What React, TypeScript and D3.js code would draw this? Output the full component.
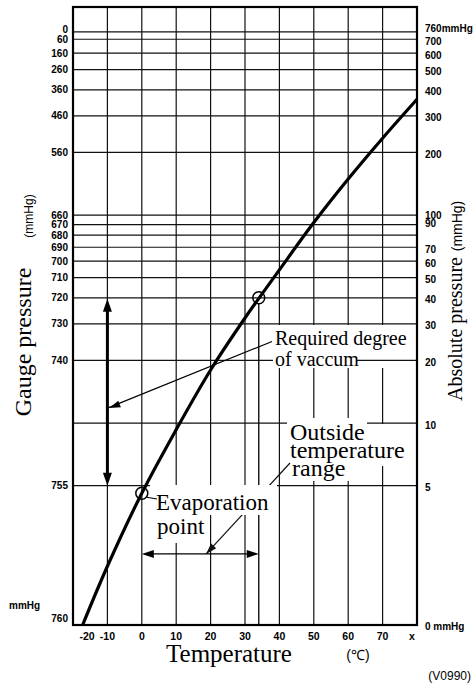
import React from 'react';
import * as d3 from 'd3';

const W = 473;
const H = 683;

// X axis (temperature, °C)
const tempTicks = [-20, -10, 0, 10, 20, 30, 40, 50, 60, 70, 80];
const tempLabels = ['-20', '-10', '0', '10', '20', '30', '40', '50', '60', '70', 'x'];

// Y axis: absolute pressure (mmHg) with matching gauge pressure labels
const absTicks = [760, 700, 600, 500, 400, 300, 200, 100, 90, 80, 70, 60, 50, 40, 30, 20, 10, 5];
const gaugeLabels = ['0', '60', '160', '260', '360', '460', '560', '660', '670', '680', '690', '700', '710', '720', '730', '740', '', '755'];
const absLabels = ['760mmHg', '700', '600', '500', '400', '300', '200', '100', '90', '', '70', '60', '50', '40', '30', '20', '10', '5'];

// Saturation curve (temperature °C, absolute pressure mmHg)
const curveTemps = [-17.2, -10, 0, 10, 20, 30, 40, 50, 60, 70, 80];
const curvePress = [1.07, 2.05, 4.6, 9.3, 18.0, 32.0, 54.5, 92, 149, 234, 360];

// Annotation anchors
const evapPoint = [0, 4.6];
const targetPoint = [34, 40];
const vacuumRange = [40, 5];
const vacuumTemp = -10;
const evapArrowPress = 2.35;
const requiredTip = [-10, 11.8];
const outsideTip = [18.7, 2.35];

const SERIF = '"Liberation Serif", "Times New Roman", serif';
const SANS = '"Liberation Sans", Arial, Helvetica, sans-serif';

const x = d3.scaleLinear().domain([-20, 80]).range([73, 417]);
const y = d3.scaleLog().domain([1.07, 1000]).range([625, 7]);

function arrowHead(tx: number, ty: number, fx: number, fy: number, len: number, hw: number) {
  const dx = tx - fx, dy = ty - fy;
  const d = Math.hypot(dx, dy) || 1;
  const ux = dx / d, uy = dy / d;
  const bx = tx - ux * len, by = ty - uy * len;
  const px = -uy, py = ux;
  return `${tx},${ty} ${bx + px * hw},${by + py * hw} ${bx - px * hw},${by - py * hw}`;
}

export default function App() {
  const [x0, x1] = x.range();
  const yTop = y(1000);
  const yBot = y(1.07);

  const line = d3
    .line<number>()
    .x((_, i) => x(curveTemps[i]))
    .y((_, i) => y(curvePress[i]))
    .curve(d3.curveCatmullRom);
  const curvePath = line(curveTemps) || '';

  const ex = x(evapPoint[0]), ey = y(evapPoint[1]);
  const tx = x(targetPoint[0]), ty = y(targetPoint[1]);
  const vx = x(vacuumTemp), vTop = y(vacuumRange[0]), vBot = y(vacuumRange[1]);
  const ay = y(evapArrowPress);
  const rTipX = x(requiredTip[0]), rTipY = y(requiredTip[1]);
  const oTipX = x(outsideTip[0]), oTipY = y(outsideTip[1]);
  const r = 6;

  const rStart = [272, 341.5];
  const oStart = [290, 463];

  return (
    <svg width={W} height={H} style={{ position: 'absolute', left: 0, top: 0, background: '#fff' }}>
      <rect x={0} y={0} width={W} height={H} fill="#fff" />
      {/* vertical grid */}
      {tempTicks.slice(1, -1).map((t) => (
        <line key={'v' + t} x1={x(t)} x2={x(t)} y1={yTop} y2={yBot} stroke="#111" strokeWidth={1.2} />
      ))}
      {/* horizontal grid */}
      {absTicks.map((p) => (
        <line key={'h' + p} x1={x0} x2={x1} y1={y(p)} y2={y(p)} stroke="#111" strokeWidth={1.2} />
      ))}
      {/* vertical from target point */}
      <line x1={tx} x2={tx} y1={ty + r} y2={yBot} stroke="#111" strokeWidth={1.4} />

      {/* white label boxes */}
      <rect x={273} y={325} width={144} height={43} fill="#fff" />
      <line x1={357} x2={x1} y1={y(20)} y2={y(20)} stroke="#111" strokeWidth={1.2} />
      <rect x={287} y={418} width={80} height={48} fill="#fff" />
      <rect x={367} y={424} width={50} height={42} fill="#fff" />
      <rect x={287} y={466} width={68} height={15} fill="#fff" />

      {/* pointer from "Outside temperature range" */}
      <line x1={oStart[0]} y1={oStart[1]} x2={oTipX} y2={oTipY} stroke="#111" strokeWidth={1.2} />
      <polygon points={arrowHead(oTipX, oTipY, oStart[0], oStart[1], 11, 3.5)} fill="#111" />

      <rect x={150} y={485} width={127} height={30} fill="#fff" />
      <rect x={150} y={515} width={55} height={28} fill="#fff" />

      {/* curve */}
      <path d={curvePath} fill="none" stroke="#000" strokeWidth={3.2} />

      {/* circles */}
      <circle cx={ex} cy={ey} r={r} fill="none" stroke="#000" strokeWidth={1.5} />
      <circle cx={tx} cy={ty} r={r} fill="none" stroke="#000" strokeWidth={1.5} />
      <line x1={ex + 5} y1={ey + 4} x2={157} y2={499} stroke="#000" strokeWidth={1.2} />

      {/* vacuum double arrow */}
      <line x1={vx} x2={vx} y1={vTop + 10} y2={vBot - 10} stroke="#000" strokeWidth={3} />
      <polygon points={arrowHead(vx, vTop + 1, vx, vBot, 13, 4.5)} fill="#000" />
      <polygon points={arrowHead(vx, vBot, vx, vTop, 13, 4.5)} fill="#000" />

      {/* required degree pointer */}
      <line x1={rStart[0]} y1={rStart[1]} x2={rTipX} y2={rTipY} stroke="#000" strokeWidth={1.2} />
      <polygon points={arrowHead(rTipX + 2, rTipY, rStart[0], rStart[1], 11, 3.5)} fill="#000" />

      {/* evaporation range arrow */}
      <line x1={ex + 8} x2={tx - 8} y1={ay} y2={ay} stroke="#000" strokeWidth={1.4} />
      <polygon points={arrowHead(ex, ay, tx, ay, 12, 4)} fill="#000" />
      <polygon points={arrowHead(tx, ay, ex, ay, 12, 4)} fill="#000" />

      {/* frame */}
      <rect x={x0} y={yTop} width={x1 - x0} height={yBot - yTop} fill="none" stroke="#000" strokeWidth={2.2} />

      {/* left labels */}
      <g fontFamily={SANS} fontSize={10} fontWeight="bold" fill="#000">
        {absTicks.map((p, i) =>
          gaugeLabels[i] ? (
            <text key={'gl' + p} x={68} y={y(p) - (i === 0 ? 2 : 0)} textAnchor="end" dominantBaseline="central">
              {gaugeLabels[i]}
            </text>
          ) : null
        )}
        <text x={68} y={yBot - 7} textAnchor="end" dominantBaseline="central">760</text>
        <text x={9} y={605} dominantBaseline="central">mmHg</text>
      </g>
      {/* right labels */}
      <g fontFamily={SANS} fontSize={10} fontWeight="bold" fill="#000">
        {absTicks.map((p, i) =>
          absLabels[i] ? (
            <text key={'al' + p} x={425} y={y(p) + (i === 0 ? -3 : p === 90 ? -1 : p === 100 ? 0 : 2)} dominantBaseline="central">
              {absLabels[i]}
            </text>
          ) : null
        )}
        <text x={425} y={yBot + 1} dominantBaseline="central">0 mmHg</text>
      </g>
      {/* bottom labels */}
      <g fontFamily={SANS} fontSize={10.5} fontWeight="bold" fill="#000">
        {tempTicks.map((t, i) => (
          <text key={'tl' + t} x={x(t) + (i === 0 ? 14 : i === tempTicks.length - 1 ? -5 : 0)} y={640} textAnchor="middle">
            {tempLabels[i]}
          </text>
        ))}
      </g>

      {/* axis titles */}
      <text transform="translate(31,342) rotate(-90)" fontFamily={SERIF} fontSize={24} textAnchor="middle" fill="#000">
        Gauge pressure
      </text>
      <text transform="translate(33,216) rotate(-90)" fontFamily={SANS} fontSize={12} textAnchor="middle" fill="#000">
        (mmHg)
      </text>
      <text transform="translate(462,329) rotate(-90)" fontFamily={SERIF} fontSize={20} textAnchor="middle" fill="#000">
        Absolute pressure
      </text>
      <text transform="translate(462,226) rotate(-90)" fontFamily={SANS} fontSize={14} textAnchor="middle" fill="#000">
        (mmHg)
      </text>
      <text x={229} y={662} fontFamily={SERIF} fontSize={25} textAnchor="middle" fill="#000">
        Temperature
      </text>
      <text x={358} y={660} fontFamily={SANS} fontSize={14} textAnchor="middle" fill="#000">
        (℃)
      </text>
      <text x={471} y={680} fontFamily={SANS} fontSize={12} textAnchor="end" fill="#000">
        (V0990)
      </text>

      {/* annotation texts */}
      <g fontFamily={SERIF} fill="#000">
        <text x={275} y={345} fontSize={20}>Required degree</text>
        <text x={275} y={366} fontSize={20}>of vaccum</text>
        <text x={290} y={440} fontSize={24}>Outside</text>
        <text x={290} y={458} fontSize={24}>temperature</text>
        <text x={292} y={476} fontSize={24}>range</text>
        <text x={156} y={510} fontSize={23}>Evaporation</text>
        <text x={157} y={534} fontSize={23}>point</text>
      </g>
    </svg>
  );
}
